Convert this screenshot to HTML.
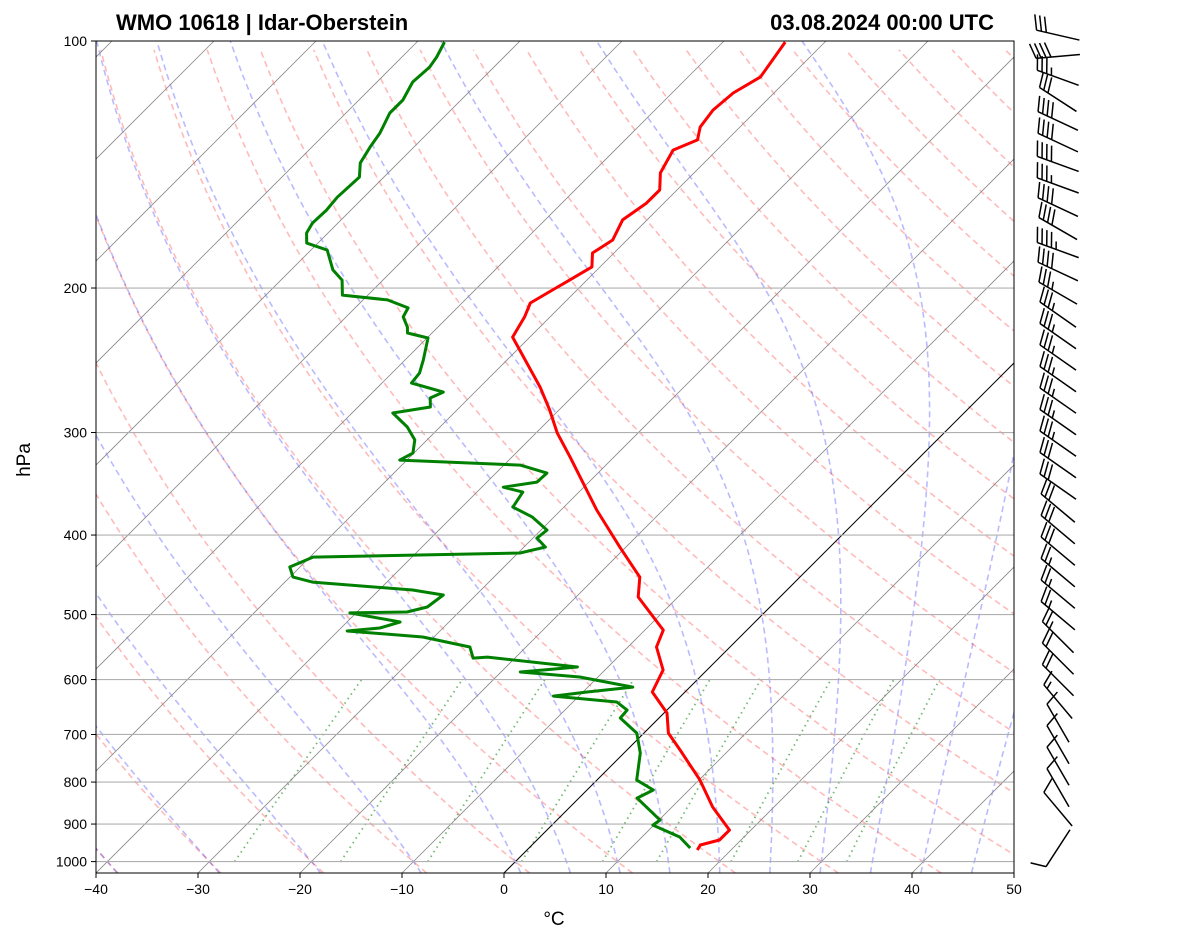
<!DOCTYPE html>
<html><head><meta charset="utf-8"><style>
body{margin:0;background:#fff;}
svg{display:block;font-family:"Liberation Sans",sans-serif;}
</style></head><body>
<svg id="c" width="1181" height="941" viewBox="0 0 1181 941" xmlns="http://www.w3.org/2000/svg">
<defs><clipPath id="pa"><rect x="96" y="41" width="918" height="832"/></clipPath></defs>
<rect x="0" y="0" width="1181" height="941" fill="#fff"/>
<g id="bg" clip-path="url(#pa)"></g>
<g id="prof" clip-path="url(#pa)"></g>
<rect x="96" y="41" width="918" height="832" fill="none" stroke="#000" stroke-width="1"/>
<g id="axes"></g>
<g id="barbs"></g>
<text x="116" y="30" font-size="22" font-weight="bold">WMO 10618 | Idar-Oberstein</text>
<text x="994" y="30" font-size="22" font-weight="bold" text-anchor="end">03.08.2024 00:00 UTC</text>
<text x="554" y="925" font-size="19" text-anchor="middle">°C</text>
<text x="30" y="460" font-size="19" text-anchor="middle" transform="rotate(-90 30 460)">hPa</text>
</svg>
<script>
const tempP=[100.3,110.6,115.7,121.4,127.3,132.0,135.8,144.8,151.9,157.6,165.2,174.8,181.3,188.5,195.6,201.1,208.6,216.9,229.5,264.1,281.7,300.5,321.4,372.8,413.7,450.1,476.0,522.2,547.7,584.2,621.4,659.1,697.2,731.1,795.5,858.1,915.3,941.3,954.6,968.0];
const tempT=[-53.9,-52.9,-54.0,-54.3,-53.9,-52.9,-54.3,-53.3,-51.7,-51.7,-52.4,-51.4,-52.1,-50.8,-51.7,-52.4,-53.3,-52.5,-51.7,-44.1,-40.9,-37.9,-34.3,-26.5,-20.6,-15.7,-13.9,-8.2,-7.2,-4.3,-3.2,0.3,2.4,5.2,10.1,14.0,17.9,17.9,16.5,16.7];
const dewP=[100.3,104.6,107.6,112.2,118.0,122.4,129.5,134.6,140.8,146.5,155.0,160.7,166.7,171.4,176.3,179.8,190.1,195.6,204.0,206.8,211.5,216.9,223.1,226.9,230.1,244.8,253.9,261.1,267.8,272.3,279.3,284.0,295.4,306.3,317.8,324.1,328.7,336.2,344.8,349.7,354.6,369.8,380.4,394.5,403.4,413.7,420.7,425.5,437.5,450.1,456.5,466.7,473.3,489.5,496.4,497.7,510.5,519.2,523.6,532.5,547.7,564.9,563.3,579.3,587.5,595.7,612.8,621.4,628.5,639.1,653.7,668.3,697.2,737.4,795.5,818.0,836.7,890.0,902.6,933.3,962.5];
const dewT=[-87.3,-86.6,-86.3,-86.5,-85.7,-85.7,-84.7,-84.3,-83.7,-82.4,-82.6,-82.4,-82.5,-82.1,-81.1,-78.4,-75.9,-74.0,-72.5,-67.6,-64.8,-64.4,-63.0,-62.4,-59.9,-58.2,-57.3,-57.1,-53.1,-53.8,-52.9,-56.0,-53.2,-51.2,-50.1,-50.7,-38.4,-35.0,-35.1,-37.9,-35.5,-35.0,-32.1,-29.4,-29.6,-27.9,-29.8,-49.7,-51.0,-49.7,-47.3,-36.7,-33.2,-33.6,-35.1,-40.6,-34.8,-36.2,-39.1,-31.1,-25.5,-24.1,-22.8,-13.0,-18.1,-11.8,-5.6,-9.6,-12.5,-5.7,-3.9,-3.8,-0.7,1.6,3.9,6.5,5.7,10.1,9.9,13.7,15.8];
const barbP=[100.6,106.8,113.4,120.5,128.0,136.0,144.4,153.4,163.0,173.1,183.9,195.3,207.5,220.4,234.1,248.6,264.1,280.5,298.0,316.5,336.2,357.1,379.3,402.9,428.0,454.6,482.9,512.9,544.8,578.7,614.7,652.9,693.5,736.6,782.5,831.1,882.8,985.0];
const barbDir=[283,265,290,303,295,295,290,290,295,300,290,295,300,305,305,305,305,305,305,305,305,305,310,310,310,310,310,310,315,315,315,320,330,330,330,330,320,213];
const barbSpd=[30,40,35,30,40,40,40,35,40,40,45,40,35,35,35,35,35,35,35,35,30,30,30,30,30,25,25,25,25,20,20,15,10,10,10,10,10,10];
const pTicks=[100,200,300,400,500,600,700,800,900,1000];
const tTicks=[-40,-30,-20,-10,0,10,20,30,40,50];

const NS='http://www.w3.org/2000/svg';
const TOP=41,BOT=873,LEFT=96,RIGHT=1014,DEC=820.6,PXC=10.2;
function Y(p){return TOP+DEC*Math.log10(p/100);}
function X(T,p){return LEFT+(T+40)*PXC+(BOT-Y(p));}
function mk(tag,parent,attrs){const e=document.createElementNS(NS,tag);for(const k in attrs)e.setAttribute(k,attrs[k]);parent.appendChild(e);return e;}
function ptsStr(arr){return arr.map(a=>a[0].toFixed(1)+','+a[1].toFixed(1)).join(' ');}
const bg=document.getElementById('bg'),prof=document.getElementById('prof'),axes=document.getElementById('axes'),barbs=document.getElementById('barbs');
const pBot=100*Math.pow(10,(BOT-TOP)/DEC);

for(let t0=-50;t0<=220;t0+=10){
  const th=t0+273.15,pts=[];
  for(let p=pBot;p>=99;p-=5){pts.push([X(th*Math.pow(p/1000,0.2857)-273.15,p),Y(p)]);}
  const e=mk('polyline',bg,{points:ptsStr(pts),fill:'none',stroke:'#ff0000','stroke-opacity':'0.27','stroke-width':'1.6','stroke-dasharray':'6,4'});
  
  
}
function es(Tc){return 6.112*Math.exp(17.67*Tc/(Tc+243.5));}
function dTdp(p,T){const e=es(T-273.15),rs=0.622*e/(p-e);return (287.04*T+2.501e6*rs)/(1004.6+(2.501e6*2.501e6*rs*0.622/(287.04*T*T)))/p;}
function integ(T,p0,p1,h){const out=[[p0,T]];let p=p0;const n=Math.round(Math.abs(p1-p0)/h),dp=(p1-p0)/n;
  for(let i=0;i<n;i++){const k1=dTdp(p,T),k2=dTdp(p+dp/2,T+dp/2*k1),k3=dTdp(p+dp/2,T+dp/2*k2),k4=dTdp(p+dp,T+dp*k3);T+=dp/6*(k1+2*k2+2*k3+k4);p+=dp;out.push([p,T]);}return out;}
const moistT0=[-40,-30,-20,-10,0,5,10,15,20,25,30,35,40,45,50];
moistT0.forEach(t0=>{
  const up=integ(t0+273.15,1000,100,5),dn=integ(t0+273.15,1000,pBot,2);
  const all=dn.reverse().concat(up.slice(1));
  const e=mk('polyline',bg,{points:ptsStr(all.map(a=>[X(a[1]-273.15,a[0]),Y(a[0])])),fill:'none',stroke:'#0000ff','stroke-opacity':'0.27','stroke-width':'1.6','stroke-dasharray':'6,4'});
  
  
});
[0.0004,0.001,0.002,0.004,0.007,0.01,0.016,0.024,0.032].forEach(w=>{
  const pts=[];for(let p=1000;p>=600;p-=10){const e=p*w/(0.622+w),l=Math.log(e/6.112),td=243.5*l/(17.67-l);pts.push([X(td,p),Y(p)]);}
  const el=mk('polyline',bg,{points:ptsStr(pts),fill:'none',stroke:'#008000','stroke-opacity':'0.55','stroke-width':'1.8','stroke-dasharray':'1.5,4'});
  
  
});
for(let t=-170;t<=50;t+=10){
  const e=mk('line',bg,{x1:X(t,pBot),y1:BOT,x2:X(t,100),y2:TOP,stroke:t===0?'#000':'#888','stroke-width':t===0?'1':'0.8'});
  
  
}
pTicks.forEach(p=>{
  const e=mk('line',bg,{x1:LEFT,x2:RIGHT,y1:Y(p),y2:Y(p),stroke:'#b0b0b0','stroke-width':'1.1'});
  
  
  const tk=mk('line',axes,{x1:LEFT-5,x2:LEFT,y1:Y(p),y2:Y(p),stroke:'#000','stroke-width':'1'});
  
  
  const tx=mk('text',axes,{x:LEFT-9,y:Y(p)+5,'font-size':'14','text-anchor':'end'});tx.textContent=p;
  
  
});
tTicks.forEach(t=>{
  const x=LEFT+(t+40)*PXC;
  const tk=mk('line',axes,{x1:x,x2:x,y1:BOT,y2:BOT+5,stroke:'#000','stroke-width':'1'});
  
  
  const tx=mk('text',axes,{x:x,y:BOT+21,'font-size':'14','text-anchor':'middle'});tx.textContent=(t<0?'\u2212'+(-t):t);
  
  
});
const tl=mk('polyline',prof,{points:ptsStr(tempP.map((p,i)=>[X(tempT[i],p),Y(p)])),fill:'none',stroke:'#ff0000','stroke-width':'3','stroke-linejoin':'round'});


const dl=mk('polyline',prof,{points:ptsStr(dewP.map((p,i)=>[X(dewT[i],p),Y(p)])),fill:'none',stroke:'#008000','stroke-width':'3','stroke-linejoin':'round'});


const MX=1058,L=44;
barbP.forEach((p,i)=>{
  const d=barbDir[i]*Math.PI/180,ux=Math.sin(d),uy=-Math.cos(d);
  const my=Y(p)-8;
  const bx=MX-ux*L/2,by=my-uy*L/2,tx=MX+ux*L/2,ty=my+uy*L/2;
  const nx=-uy,ny=ux;
  const g=mk('g',barbs,{stroke:'#000','stroke-width':'1.5',fill:'none'});
  
  
  mk('line',g,{x1:bx,y1:by,x2:tx,y2:ty});
  let s=barbSpd[i],pos=0;const full=Math.floor(s/10),half=(s%10)>=5?1:0;
  const fl=15,sp=5;
  for(let k=0;k<full;k++){const px=tx-ux*pos,py=ty-uy*pos;mk('line',g,{x1:px,y1:py,x2:px+nx*fl+ux*fl*0.35,y2:py+ny*fl+uy*fl*0.35});pos+=sp;}
  if(half){if(full===0)pos+=sp;const px=tx-ux*pos,py=ty-uy*pos;mk('line',g,{x1:px,y1:py,x2:px+nx*fl*0.5+ux*fl*0.18,y2:py+ny*fl*0.5+uy*fl*0.18});}
});
</script>
</body></html>
